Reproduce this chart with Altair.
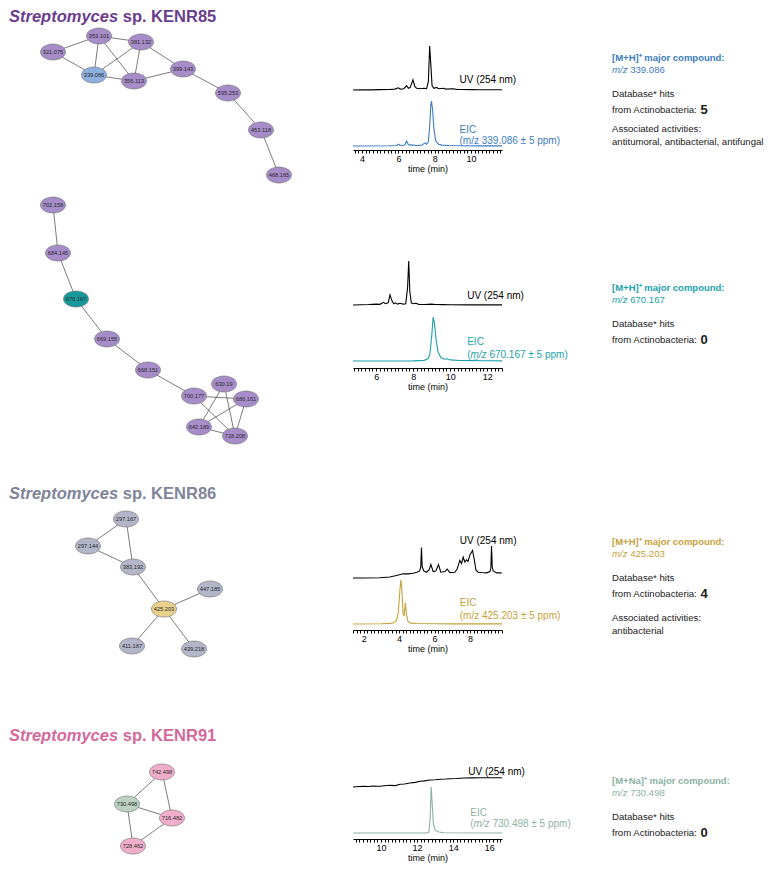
import altair as alt
import numpy as np
import pandas as pd

FONT = "Liberation Sans"

# ---------------- strain titles ----------------
TITLE_ITALIC = ["Streptomyces", "Streptomyces", "Streptomyces"]
TITLE_REST = ["sp. KENR85", "sp. KENR86", "sp. KENR91"]
TITLE_COLORS = ["#6A3D90", "#7E8499", "#D4689B"]

# ---------------- molecular networks ----------------
NODE_LABELS = ["353.101", "381.132", "321.075", "339.086", "356.113", "399.143", "595.253", "453.118", "468.165",
               "702.158", "684.145", "670.167", "669.155", "668.151", "700.177", "630.19", "686.161", "642.189", "728.208",
               "297.167", "297.144", "383.192", "447.185", "425.203", "411.187", "439.218",
               "742.498", "730.498", "716.482", "728.462"]
NODE_X = [98, 140, 52, 93, 133, 182, 227, 260, 278,
          52, 57, 75, 106, 147, 193, 223, 245, 198, 234,
          125, 87, 132, 209, 163, 131, 193,
          161, 126, 171, 132]
NODE_Y = [35, 41, 51, 74, 80, 68, 92, 129, 174,
          204, 252, 298, 338, 369, 395, 383, 398, 426, 435,
          518, 545, 566, 588, 608, 645, 648,
          771, 803, 817, 845]
PURPLE, BLUE, TEAL = "#A68CC9", "#8DB0DE", "#17999B"
GREY, YELLOW = "#B3B5C8", "#E8D18C"
PINK, SAGE = "#F1AECB", "#BDD1C0"
NODE_FILL = [PURPLE, PURPLE, PURPLE, BLUE, PURPLE, PURPLE, PURPLE, PURPLE, PURPLE,
             PURPLE, PURPLE, TEAL, PURPLE, PURPLE, PURPLE, PURPLE, PURPLE, PURPLE, PURPLE,
             GREY, GREY, GREY, GREY, YELLOW, GREY, GREY,
             PINK, SAGE, PINK, PINK]
EDGES = [("321.075", "353.101"), ("321.075", "339.086"), ("353.101", "381.132"), ("353.101", "339.086"),
         ("353.101", "356.113"), ("381.132", "339.086"), ("381.132", "356.113"), ("381.132", "399.143"),
         ("339.086", "356.113"), ("356.113", "399.143"), ("399.143", "595.253"), ("595.253", "453.118"),
         ("453.118", "468.165"),
         ("702.158", "684.145"), ("684.145", "670.167"), ("670.167", "669.155"), ("669.155", "668.151"),
         ("668.151", "700.177"), ("700.177", "686.161"), ("700.177", "728.208"), ("630.19", "642.189"),
         ("630.19", "728.208"), ("686.161", "642.189"), ("686.161", "728.208"), ("642.189", "728.208"),
         ("297.167", "297.144"), ("297.167", "383.192"), ("297.144", "383.192"), ("383.192", "425.203"),
         ("425.203", "447.185"), ("425.203", "411.187"), ("425.203", "439.218"),
         ("742.498", "730.498"), ("742.498", "716.482"), ("730.498", "716.482"), ("730.498", "728.462"),
         ("716.482", "728.462")]

# ---------------- chromatograms ----------------
UV_T = [
    [3.5, 4.0, 4.5, 5.0, 5.5, 5.8, 6.0, 6.1, 6.3, 6.45, 6.55, 6.65, 6.8, 6.9, 7.0, 7.2, 7.4, 7.55, 7.65, 7.72,
     7.78, 7.85, 7.95, 8.1, 8.2, 8.5, 8.6, 9.0, 9.2, 9.5, 10.0, 10.5, 11.0, 11.7],
    [4.75, 5.2, 5.6, 6.0, 6.2, 6.4, 6.5, 6.65, 6.75, 6.85, 6.95, 7.05, 7.15, 7.3, 7.45, 7.6, 7.7, 7.76, 7.82, 7.9,
     8.0, 8.15, 8.3, 8.6, 9.0, 9.2, 9.6, 10.0, 11.0, 12.0, 12.8],
    [1.4, 1.96, 2.9, 3.47, 3.85, 4.22, 4.5, 4.79, 5.0, 5.16, 5.22, 5.26, 5.3, 5.39, 5.54, 5.69, 5.79, 5.92, 6.07,
     6.22, 6.35, 6.58, 6.71, 6.86, 7.14, 7.27, 7.42, 7.52, 7.61, 7.71, 7.8, 7.89, 7.99, 8.14, 8.23, 8.33, 8.46,
     8.65, 8.93, 9.12, 9.17, 9.21, 9.25, 9.3, 9.5, 9.78],
    [8.45, 8.8, 9.02, 9.3, 9.57, 9.8, 9.94, 10.2, 10.5, 10.8, 11.06, 11.3, 11.6, 11.9, 12.17, 12.4, 12.7, 13.0,
     13.3, 13.6, 13.8, 14.2, 14.6, 15.0, 15.5, 16.0, 16.7],
]
UV_V = [
    [0, 0.5, 0.3, 0.8, 1.0, 2, 5, 2, 3, 10, 4, 6, 23, 8, 4, 3, 4, 3, 20, 100,
     60, 10, 4, 6, 3, 4, 2, 3, 1.5, 1, 0.8, 0.6, 0.5, 0.4],
    [0, 0.5, 1, 2, 1.5, 6, 3, 5, 23, 10, 3, 5, 2, 4, 2, 3, 40, 100, 30, 5,
     3, 4, 1.5, 1, 2, 1, 0.8, 0.5, 0.3, 0.3, 0.2],
    [0, 0, 1, 3, 8, 13, 13, 15, 18, 22, 35, 95, 35, 22, 18, 25, 42, 20, 22,
     42, 18, 20, 28, 17, 18, 28, 55, 45, 65, 50, 57, 52, 72, 86, 60, 25, 18,
     17, 16, 20, 30, 100, 35, 22, 16, 16],
    [0, 5, 8, 5, 11, 8, 8, 14, 18, 15, 29, 33, 43, 50, 61, 66, 75, 78,
     83, 86, 89, 92, 97, 98, 100, 99, 100],
]
EIC_T = [
    [3.5, 5.5, 5.9, 6.0, 6.1, 6.35, 6.45, 6.55, 6.8, 7.0, 7.3, 7.45, 7.55, 7.65, 7.72, 7.78, 7.82, 7.88, 7.95,
     8.05, 8.2, 8.4, 8.8, 9.5, 10.5, 11.7],
    [4.75, 8.0, 8.6, 8.8, 8.9, 9.0, 9.08, 9.15, 9.25, 9.35, 9.5, 9.7, 9.85, 10.0, 10.5, 11.2, 11.4, 11.55, 12.0, 12.8],
    [1.4, 3.0, 3.5, 3.7, 3.85, 3.95, 4.05, 4.1, 4.16, 4.22, 4.28, 4.35, 4.42, 4.5, 4.65, 5.0, 6.0, 7.0, 9.8],
    [8.45, 12.5, 12.65, 12.72, 12.78, 12.84, 12.9, 13.0, 13.2, 13.5, 16.7],
]
EIC_V = [
    [0, 0.5, 1, 4, 1, 2, 11, 3, 2, 1, 2, 7, 4, 10, 45, 90, 100, 80, 40, 12, 4, 2, 1, 0.5, 0.3, 0.2],
    [0, 0.3, 1.5, 5, 15, 55, 100, 85, 45, 20, 8, 4, 5, 2.5, 1, 0.8, 2, 0.8, 0.5, 0.3],
    [0, 0.5, 1.5, 3, 8, 25, 80, 100, 75, 25, 18, 48, 20, 6, 2, 1, 0.5, 0.3, 0.2],
    [0, 0, 2, 30, 100, 60, 20, 6, 2, 0.5, 0],
]
TIME_DOMAIN = [(3.5, 11.7), (4.75, 12.8), (1.4, 9.8), (8.45, 16.7)]
EIC_COLORS = ["#3A7CC2", "#1BA2AC", "#C6A13A", "#8CB2A2"]
EIC_MZ = ["339.086", "670.167", "425.203", "730.498"]
MZ_ITALIC = [False, True, False, True]
# label anchors in data units (time, relative intensity)
UV_LAB_T = [9.36, 10.92, 7.42, 14.83]
UV_LAB_V = [22.7, 20.5, 116.7, 161]
EIC_LAB_T = [9.36, 10.92, 7.42, 14.94]
EIC_LAB_V1 = [35.6, 43.2, 47.7, 43.5]
EIC_LAB_V2 = [11.1, 13.6, 18.2, 19.6]

# ---------------- annotation panels ----------------
ION = ["[M+H]⁺", "[M+H]⁺", "[M+H]⁺", "[M+Na]⁺"]
HITS = ["5", "0", "4", "0"]
ACTIVITIES = ["antitumoral, antibacterial, antifungal", "", "antibacterial", ""]

# ================= layout constants =================
TOP, BOTTOM = 8, 858
LEFT_X0, LEFT_X1 = 8, 348
TITLE_Y = [8, 485, 727]
AXIS_Y = [149, 366, 627, 835]
AXIS_BLOCK = 24
UV_BASE = [89, 303, 575, 783]
UV_TOP = [45, 259, 543, 773.7]
EIC_BASE = [145, 359, 621, 829]
EIC_TOP = [100, 315, 577, 783]
CHROM_W = 149
RS = 574           # start of right column (page px)
RIGHT_W = 192
TEXT_X = 613
PANEL_Y = [57, 287, 541, 780]
OFF_MZ, OFF_DB, OFF_FROM = 12, 36, 52
OFF_ASSOC = [71, 0, 76, 0]
OFF_ACT = 12.5
TXT = 9.6
HDR = 9.5

yscale = alt.Scale(domain=[TOP, BOTTOM], reverse=True, nice=False, zero=False)

# ================= left column: titles + networks =================
pos = {l: (x, y) for l, x, y in zip(NODE_LABELS, NODE_X, NODE_Y)}
nodes = pd.DataFrame({"label": NODE_LABELS, "x": NODE_X, "y": NODE_Y, "fill": NODE_FILL})
edges = pd.DataFrame([{"x": pos[a][0], "y": pos[a][1], "x2": pos[b][0], "y2": pos[b][1]} for a, b in EDGES])
titles = pd.DataFrame({"it": TITLE_ITALIC, "rest": TITLE_REST, "c": TITLE_COLORS, "y": TITLE_Y})

lxs = alt.Scale(domain=[LEFT_X0, LEFT_X1], nice=False, zero=False)
ang = np.linspace(0, 2 * np.pi, 41)[:-1]
ELLIPSE = "M" + " L".join(f"{np.cos(a):.3f},{0.64 * np.sin(a):.3f}" for a in ang) + " Z"

edge_layer = alt.Chart(edges).mark_rule(color="#5a5a5a", strokeWidth=0.8).encode(
    x=alt.X("x:Q", scale=lxs, axis=None), y=alt.Y("y:Q", scale=yscale, axis=None),
    x2="x2:Q", y2="y2:Q")
node_layer = alt.Chart(nodes).mark_point(shape=ELLIPSE, size=625, filled=True, opacity=1,
                                         stroke="#707070", strokeWidth=0.6).encode(
    x=alt.X("x:Q", scale=lxs, axis=None), y=alt.Y("y:Q", scale=yscale, axis=None),
    fill=alt.Fill("fill:N", scale=None))
node_text = alt.Chart(nodes).mark_text(fontSize=5.7, font=FONT, color="#2a2a2a", clip=True).encode(
    x=alt.X("x:Q", scale=lxs, axis=None), y=alt.Y("y:Q", scale=yscale, axis=None), text="label:N")
title_it = alt.Chart(titles).mark_text(align="left", baseline="top", fontSize=16.5, font=FONT,
                                       fontWeight="bold", fontStyle="italic", clip=True).encode(
    x=alt.value(0), y=alt.Y("y:Q", scale=yscale, axis=None), text="it:N", color=alt.Color("c:N", scale=None))
title_rest = alt.Chart(titles).mark_text(align="left", baseline="top", fontSize=16.5, font=FONT,
                                         fontWeight="bold", dx=113.7, clip=True).encode(
    x=alt.value(0), y=alt.Y("y:Q", scale=yscale, axis=None), text="rest:N", color=alt.Color("c:N", scale=None))
left = alt.layer(edge_layer, node_layer, node_text, title_it, title_rest).properties(
    width=LEFT_X1 - LEFT_X0, height=BOTTOM - TOP)

# ================= middle column: chromatograms =================
def chrom(i, top):
    B = AXIS_Y[i]
    h = B - top

    def dom(base, peak):
        p = (base - peak) / 100.0
        d0 = -(B - base) / p
        return [d0, d0 + h / p]

    x0, x1 = TIME_DOMAIN[i]
    ticks = [round(v, 2) for v in np.arange(np.ceil(x0 / 0.2 - 1e-9) * 0.2, x1 + 1e-9, 0.2)]
    xs = alt.Scale(domain=[x0, x1], nice=False, zero=False)
    ax = alt.Axis(values=ticks, title="time (min)", grid=False,
                  labelExpr="abs(datum.value/2 - round(datum.value/2)) < 0.01 ? '' + round(datum.value) : ''",
                  labelOverlap=False, labelFlush=False, labelFontSize=9, titleFontSize=9,
                  titleFontWeight="normal", labelFont=FONT, titleFont=FONT, tickSize=3, labelPadding=1,
                  titlePadding=1, domainColor="black", tickColor="black", labelColor="black",
                  titleColor="black", domainWidth=1, tickWidth=1)
    X = alt.X("t:Q", scale=xs, axis=ax)
    uvs = alt.Scale(domain=dom(UV_BASE[i], UV_TOP[i]), nice=False, zero=False)
    eis = alt.Scale(domain=dom(EIC_BASE[i], EIC_TOP[i]), nice=False, zero=False)
    col = EIC_COLORS[i]

    uv = alt.Chart(pd.DataFrame({"t": UV_T[i], "v": UV_V[i]})).mark_line(
        color="black", strokeWidth=1.1).encode(x=X, y=alt.Y("v:Q", scale=uvs, axis=None))
    ei = alt.Chart(pd.DataFrame({"t": EIC_T[i], "v": EIC_V[i]})).mark_line(
        color=col, strokeWidth=1.1).encode(x=X, y=alt.Y("v:Q", scale=eis, axis=None))
    uvlab = alt.Chart(pd.DataFrame({"t": [UV_LAB_T[i]], "v": [UV_LAB_V[i]], "s": ["UV (254 nm)"]})).mark_text(
        align="left", baseline="middle", fontSize=10, font=FONT, color="black").encode(
        x=X, y=alt.Y("v:Q", scale=uvs, axis=None), text="s:N")
    l1 = alt.Chart(pd.DataFrame({"t": [EIC_LAB_T[i]], "v": [EIC_LAB_V1[i]], "s": ["EIC"]})).mark_text(
        align="left", baseline="middle", fontSize=10, font=FONT, color=col).encode(
        x=X, y=alt.Y("v:Q", scale=eis, axis=None), text="s:N")
    layers = [uv, ei, uvlab, l1]
    if MZ_ITALIC[i]:
        parts = [("(", 0, "normal"), ("m/z", 3.3, "italic"), (f"{EIC_MZ[i]} ± 5 ppm)", 22.2, "normal")]
    else:
        parts = [(f"(m/z {EIC_MZ[i]} ± 5 ppm)", 0, "normal")]
    for s, dx, st in parts:
        layers.append(alt.Chart(pd.DataFrame({"t": [EIC_LAB_T[i]], "v": [EIC_LAB_V2[i]], "s": [s]})).mark_text(
            align="left", baseline="middle", fontSize=10, font=FONT, color=col, dx=dx, fontStyle=st).encode(
            x=X, y=alt.Y("v:Q", scale=eis, axis=None), text="s:N"))
    return alt.layer(*layers).resolve_scale(y="independent").properties(width=CHROM_W, height=h)


charts = []
top = TOP
for i in range(4):
    charts.append(chrom(i, top))
    top = AXIS_Y[i] + AXIS_BLOCK
middle = alt.vconcat(*charts, spacing=0)

# ================= right column: annotation text =================
rxs = alt.Scale(domain=[RS, RS + RIGHT_W], nice=False, zero=False)
RX = alt.X("x:Q", scale=rxs, axis=None)
RY = alt.Y("y:Q", scale=yscale, axis=None)

hdr = pd.DataFrame({"x": TEXT_X, "y": PANEL_Y, "s": [f"{ion} major compound:" for ion in ION], "c": EIC_COLORS})
mz = pd.DataFrame({"x": TEXT_X, "y": [y + OFF_MZ for y in PANEL_Y], "s": EIC_MZ, "c": EIC_COLORS,
                   "m": "m/z"})
plain_rows = []
num_rows = []
for k, y in enumerate(PANEL_Y):
    plain_rows.append({"x": TEXT_X, "y": y + OFF_DB, "s": "Database* hits"})
    plain_rows.append({"x": TEXT_X, "y": y + OFF_FROM, "s": "from Actinobacteria:"})
    num_rows.append({"x": TEXT_X, "y": y + OFF_FROM, "s": HITS[k]})
    if ACTIVITIES[k]:
        plain_rows.append({"x": TEXT_X, "y": y + OFF_ASSOC[k], "s": "Associated activities:"})
        plain_rows.append({"x": TEXT_X, "y": y + OFF_ASSOC[k] + OFF_ACT, "s": ACTIVITIES[k]})
plain = pd.DataFrame(plain_rows)
nums = pd.DataFrame(num_rows)

r_hdr = alt.Chart(hdr).mark_text(align="left", baseline="middle", fontSize=HDR, font=FONT,
                                 fontWeight="bold", clip=True).encode(x=RX, y=RY, text="s:N",
                                                                      color=alt.Color("c:N", scale=None))
r_mz_it = alt.Chart(mz).mark_text(align="left", baseline="middle", fontSize=TXT, font=FONT,
                                  fontStyle="italic", clip=True).encode(x=RX, y=RY, text="m:N",
                                                                        color=alt.Color("c:N", scale=None))
r_mz = alt.Chart(mz).mark_text(align="left", baseline="middle", fontSize=TXT, font=FONT, dx=18.2,
                               clip=True).encode(x=RX, y=RY, text="s:N", color=alt.Color("c:N", scale=None))
r_plain = alt.Chart(plain).mark_text(align="left", baseline="middle", fontSize=TXT, font=FONT,
                                     color="#1a1a1a", clip=True).encode(x=RX, y=RY, text="s:N")
r_num = alt.Chart(nums).mark_text(align="left", baseline="middle", fontSize=13, font=FONT,
                                  fontWeight="bold", color="#1a1a1a", dx=88.5, clip=True).encode(
    x=RX, y=RY, text="s:N")
right = alt.layer(r_hdr, r_mz_it, r_mz, r_plain, r_num).properties(width=RIGHT_W, height=BOTTOM - TOP)

chart = alt.hconcat(left, middle, right, spacing=0).properties(padding=0).configure_view(
    stroke="transparent")
chart.save("out.html", embed_options={"renderer": "svg", "actions": False})
